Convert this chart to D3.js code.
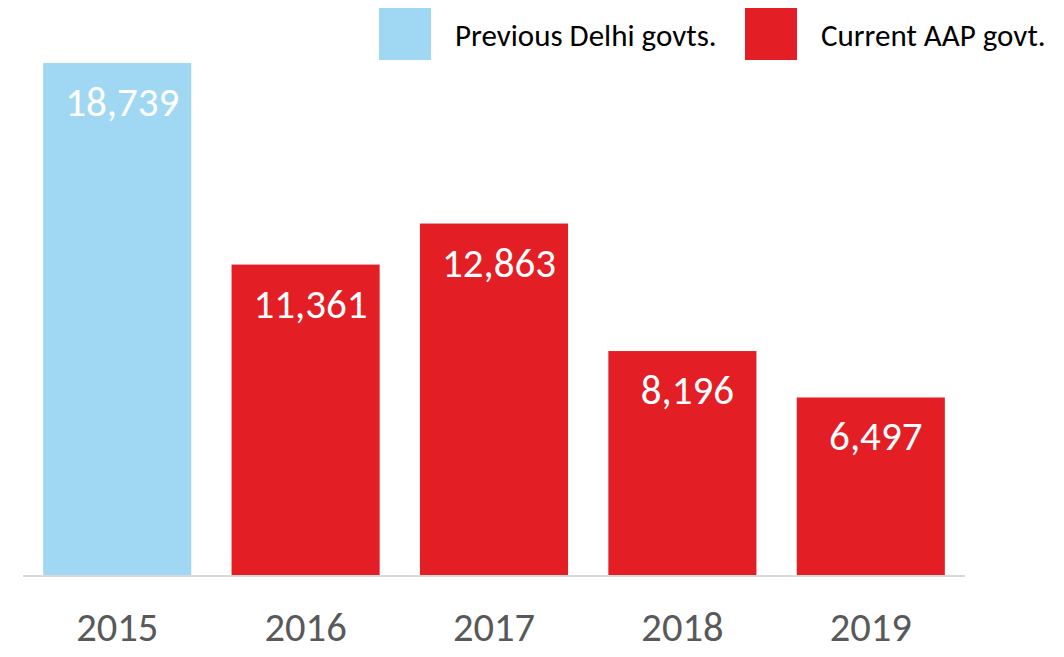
<!DOCTYPE html>
<html>
<head>
<meta charset="utf-8">
<script src="https://cdn.jsdelivr.net/npm/d3@7"></script>
<style>
  html, body { margin: 0; padding: 0; background: #fff; }
  svg { display: block; font-family: Carlito, Lato, "Open Sans", sans-serif; }
</style>
</head>
<body>
<svg id="chart" width="1064" height="657"></svg>
<script>
// Yearly totals, split by which government was in office
const years = ["2015", "2016", "2017", "2018", "2019"];
const values = [18739, 11361, 12863, 8196, 6497];
const groups = ["prev", "aap", "aap", "aap", "aap"];
const legendLabels = ["Previous Delhi govts.", "Current AAP govt."];
const legendKeys = ["prev", "aap"];

const colors = { prev: "#A0D8F3", aap: "#E31E25" };

const svg = d3.select("#chart");
const baseY = 575, topY = 63;

const x = d3.scaleBand()
  .domain(years)
  .range([23, 965])
  .paddingInner(0.214)
  .paddingOuter(0.107);

const y = d3.scaleLinear()
  .domain([0, d3.max(values)])
  .range([baseY, topY]);

const data = years.map((yr, i) => ({ year: yr, value: values[i], group: groups[i] }));

// Bars
svg.append("g").selectAll("rect")
  .data(data)
  .join("rect")
  .attr("x", d => x(d.year))
  .attr("y", d => y(d.value))
  .attr("width", x.bandwidth())
  .attr("height", d => baseY - y(d.value))
  .attr("fill", d => colors[d.group]);

// Baseline
svg.append("line")
  .attr("x1", 23).attr("x2", 965)
  .attr("y1", baseY + 1).attr("y2", baseY + 1)
  .attr("stroke", "#D9D9D9").attr("stroke-width", 2);

// Value labels inside bar tops
const fmt = d3.format(",");
svg.append("g").selectAll("text")
  .data(data)
  .join("text")
  .attr("x", d => x(d.year) + x.bandwidth() / 2 + 5)
  .attr("y", d => y(d.value) + 53)
  .attr("text-anchor", "middle")
  .attr("fill", "#fff")
  .attr("font-size", 41)
  .text(d => fmt(d.value));

// Category axis
const xAxis = svg.append("g")
  .attr("transform", `translate(0,${baseY})`)
  .call(d3.axisBottom(x).tickSize(0).tickPadding(0));
xAxis.select(".domain").remove();
xAxis.selectAll("text")
  .attr("y", 66)
  .attr("dy", 0)
  .attr("fill", "#595959")
  .attr("font-size", 40.5)
  .attr("font-family", "Carlito, Lato, 'Open Sans', sans-serif");

// Legend
const legendX = [379, 745];
const legend = svg.append("g");
legendKeys.forEach((k, i) => {
  legend.append("rect")
    .attr("x", legendX[i]).attr("y", 8)
    .attr("width", 52).attr("height", 52)
    .attr("fill", colors[k]);
  legend.append("text")
    .attr("x", legendX[i] + 76).attr("y", 46)
    .attr("fill", "#000")
    .attr("font-size", 31)
    .text(legendLabels[i]);
});
</script>
</body>
</html>
